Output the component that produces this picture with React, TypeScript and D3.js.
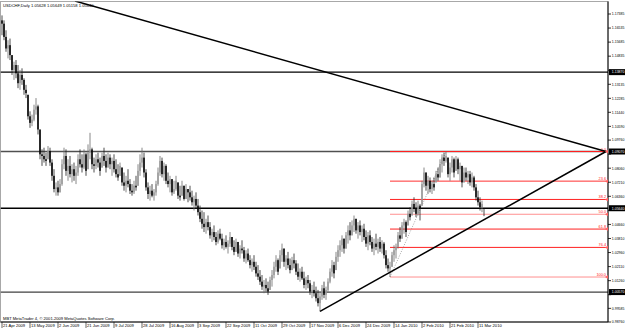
import React from 'react';
import * as d3 from 'd3';

const title = 'USDCHF,Daily  1.05628 1.05649 1.05158 1.05640';
const copyright = 'MBT MetaTrader 4, \u00A9 2001-2009 MetaQuotes Software Corp.';

const highs = [
  1.173, 1.170, 1.164, 1.158, 1.159, 1.149, 1.145, 1.146, 1.143, 1.140,
  1.141, 1.135, 1.131, 1.125, 1.115, 1.113, 1.119, 1.123, 1.119, 1.104,
  1.092, 1.093, 1.090, 1.094, 1.093, 1.086, 1.080, 1.072, 1.073, 1.074,
  1.086, 1.093, 1.092, 1.086, 1.088, 1.083, 1.084, 1.082, 1.089, 1.092,
  1.089, 1.092, 1.090, 1.095, 1.102, 1.093, 1.087, 1.089, 1.090, 1.087,
  1.090, 1.093, 1.089, 1.090, 1.089, 1.087, 1.089, 1.086, 1.083, 1.084,
  1.081, 1.078, 1.076, 1.080, 1.074, 1.071, 1.073, 1.076, 1.083, 1.089,
  1.093, 1.090, 1.080, 1.072, 1.070, 1.071, 1.068, 1.073, 1.081, 1.088,
  1.087, 1.084, 1.083, 1.078, 1.076, 1.074, 1.073, 1.076, 1.072, 1.070,
  1.073, 1.070, 1.071, 1.068, 1.070, 1.067, 1.064, 1.066, 1.062, 1.058,
  1.055, 1.054, 1.050, 1.052, 1.048, 1.044, 1.046, 1.042, 1.043, 1.044,
  1.041, 1.038, 1.040, 1.037, 1.042, 1.039, 1.037, 1.038, 1.036, 1.034,
  1.037, 1.033, 1.031, 1.032, 1.028, 1.026, 1.028, 1.024, 1.022, 1.019,
  1.016, 1.013, 1.014, 1.012, 1.015, 1.019, 1.024, 1.028, 1.026, 1.031,
  1.035, 1.032, 1.028, 1.030, 1.026, 1.027, 1.029, 1.025, 1.023, 1.020,
  1.021, 1.018, 1.015, 1.016, 1.013, 1.010, 1.012, 1.009, 1.007, 1.006,
  1.010, 1.012, 1.009, 1.014, 1.020, 1.025, 1.024, 1.030, 1.034, 1.037,
  1.040, 1.038, 1.042, 1.046, 1.048, 1.049, 1.052, 1.050, 1.048, 1.049,
  1.046, 1.047, 1.043, 1.042, 1.043, 1.039, 1.038, 1.041, 1.038, 1.039,
  1.037, 1.036, 1.031, 1.026, 1.024, 1.030, 1.034, 1.035, 1.042, 1.045,
  1.048, 1.050, 1.049, 1.055, 1.057, 1.061, 1.063, 1.060, 1.061, 1.059,
  1.073, 1.081, 1.078, 1.076, 1.075, 1.073, 1.075, 1.079, 1.081, 1.086,
  1.089, 1.090, 1.0907, 1.087, 1.084, 1.088, 1.087, 1.088, 1.087, 1.084,
  1.082, 1.081, 1.081, 1.079, 1.079, 1.078, 1.076, 1.071, 1.067, 1.063,
  1.061, 1.0565,
];

const lows = [
  1.161, 1.158, 1.151, 1.147, 1.146, 1.137, 1.134, 1.135, 1.129, 1.128,
  1.131, 1.125, 1.123, 1.110, 1.105, 1.106, 1.109, 1.113, 1.101, 1.086,
  1.082, 1.084, 1.082, 1.086, 1.082, 1.073, 1.066, 1.064, 1.064, 1.066,
  1.070, 1.080, 1.076, 1.073, 1.075, 1.072, 1.073, 1.071, 1.076, 1.081,
  1.078, 1.080, 1.076, 1.080, 1.086, 1.080, 1.078, 1.080, 1.081, 1.076,
  1.081, 1.082, 1.078, 1.081, 1.080, 1.076, 1.078, 1.075, 1.073, 1.076,
  1.070, 1.067, 1.066, 1.069, 1.065, 1.064, 1.065, 1.067, 1.070, 1.076,
  1.081, 1.075, 1.067, 1.062, 1.061, 1.063, 1.061, 1.064, 1.070, 1.076,
  1.075, 1.073, 1.071, 1.069, 1.066, 1.064, 1.065, 1.067, 1.062, 1.061,
  1.064, 1.061, 1.062, 1.060, 1.061, 1.058, 1.055, 1.056, 1.052, 1.048,
  1.044, 1.042, 1.041, 1.043, 1.038, 1.036, 1.037, 1.034, 1.035, 1.037,
  1.032, 1.031, 1.032, 1.029, 1.033, 1.031, 1.028, 1.030, 1.027, 1.026,
  1.029, 1.024, 1.023, 1.024, 1.020, 1.018, 1.019, 1.015, 1.013, 1.010,
  1.007, 1.005, 1.006, 1.004, 1.007, 1.009, 1.014, 1.018, 1.016, 1.020,
  1.024, 1.021, 1.019, 1.020, 1.017, 1.019, 1.020, 1.016, 1.013, 1.012,
  1.013, 1.008, 1.007, 1.008, 1.004, 1.002, 1.003, 1.000, 0.997, 0.994,
  1.001, 1.002, 1.001, 1.006, 1.011, 1.015, 1.014, 1.019, 1.024, 1.027,
  1.030, 1.029, 1.032, 1.035, 1.037, 1.040, 1.042, 1.041, 1.038, 1.040,
  1.036, 1.037, 1.033, 1.031, 1.034, 1.030, 1.028, 1.031, 1.029, 1.030,
  1.029, 1.026, 1.020, 1.018, 1.0148, 1.021, 1.024, 1.026, 1.032, 1.036,
  1.038, 1.041, 1.039, 1.046, 1.049, 1.052, 1.054, 1.051, 1.052, 1.049,
  1.058, 1.069, 1.067, 1.065, 1.066, 1.065, 1.067, 1.072, 1.073, 1.075,
  1.078, 1.082, 1.084, 1.075, 1.073, 1.078, 1.075, 1.079, 1.077, 1.073,
  1.069, 1.072, 1.073, 1.071, 1.070, 1.069, 1.067, 1.061, 1.058, 1.055,
  1.054, 1.0516,
];

const closes = [
  1.168, 1.160, 1.153, 1.155, 1.149, 1.140, 1.143, 1.138, 1.132, 1.137,
  1.134, 1.128, 1.126, 1.112, 1.108, 1.110, 1.116, 1.118, 1.104, 1.089,
  1.088, 1.086, 1.085, 1.091, 1.084, 1.076, 1.068, 1.069, 1.066, 1.071,
  1.083, 1.088, 1.079, 1.082, 1.077, 1.080, 1.076, 1.078, 1.086, 1.083,
  1.081, 1.089, 1.079, 1.090, 1.092, 1.083, 1.082, 1.086, 1.084, 1.079,
  1.088, 1.085, 1.081, 1.087, 1.083, 1.085, 1.080, 1.077, 1.075, 1.082,
  1.072, 1.070, 1.073, 1.071, 1.067, 1.066, 1.070, 1.069, 1.079, 1.084,
  1.087, 1.078, 1.069, 1.065, 1.067, 1.064, 1.066, 1.071, 1.078, 1.085,
  1.077, 1.082, 1.073, 1.071, 1.074, 1.066, 1.068, 1.073, 1.064, 1.063,
  1.070, 1.062, 1.068, 1.066, 1.063, 1.060, 1.062, 1.058, 1.054, 1.050,
  1.047, 1.045, 1.048, 1.045, 1.040, 1.042, 1.039, 1.036, 1.041, 1.038,
  1.034, 1.036, 1.033, 1.035, 1.039, 1.033, 1.030, 1.036, 1.029, 1.032,
  1.031, 1.026, 1.029, 1.025, 1.022, 1.024, 1.021, 1.017, 1.015, 1.012,
  1.009, 1.010, 1.008, 1.006, 1.013, 1.016, 1.021, 1.025, 1.018, 1.028,
  1.032, 1.024, 1.026, 1.022, 1.019, 1.025, 1.023, 1.018, 1.015, 1.018,
  1.014, 1.010, 1.013, 1.011, 1.006, 1.007, 1.005, 1.002, 0.999, 1.003,
  1.008, 1.004, 1.007, 1.012, 1.018, 1.022, 1.017, 1.027, 1.031, 1.034,
  1.038, 1.032, 1.040, 1.043, 1.040, 1.046, 1.050, 1.043, 1.046, 1.042,
  1.044, 1.039, 1.035, 1.040, 1.036, 1.032, 1.035, 1.033, 1.036, 1.032,
  1.035, 1.028, 1.022, 1.020, 1.021, 1.028, 1.031, 1.033, 1.040, 1.038,
  1.046, 1.048, 1.042, 1.053, 1.051, 1.059, 1.056, 1.053, 1.058, 1.056,
  1.071, 1.078, 1.070, 1.073, 1.068, 1.071, 1.069, 1.077, 1.075, 1.083,
  1.087, 1.085, 1.088, 1.077, 1.081, 1.086, 1.078, 1.086, 1.080, 1.082,
  1.072, 1.078, 1.075, 1.077, 1.072, 1.075, 1.069, 1.063, 1.060, 1.057,
  1.059, 1.0564,
];

const dateLabels = [
  '21 Apr 2009', '13 May 2009', '2 Jun 2009', '21 Jun 2009', '9 Jul 2009',
  '28 Jul 2009', '16 Aug 2009', '3 Sep 2009', '22 Sep 2009', '11 Oct 2009',
  '29 Oct 2009', '17 Nov 2009', '6 Dec 2009', '24 Dec 2009', '14 Jan 2010',
  '2 Feb 2010', '21 Feb 2010', '11 Mar 2010',
];
const dateLabelBars = [0, 14, 28, 42, 56, 70, 84, 98, 112, 126, 140, 154, 168, 182, 196, 210, 224, 238];

const priceTicks = [
  1.17385, 1.16535, 1.15685, 1.14835, 1.13985, 1.13135, 1.12285, 1.11440,
  1.10590, 1.09760, 1.08910, 1.08060, 1.07210, 1.06360, 1.05510, 1.04660,
  1.03810, 1.02960, 1.02110, 1.01260, 1.00410, 0.99585, 0.98760,
];

const hLinePrices = [1.1387, 1.0907, 1.0057];
const hLineColors = ['#000000', '#505050', '#404040'];
const bidPrice = 1.0564;

const fibFromBar = 194;
const fibToBar = 222;
const fibRatios = [0, 23.6, 38.2, 50.0, 61.8, 76.4, 100.0];
const fibColors = ['#ff2020', '#ff3030', '#ff2020', '#ff9090', '#ff2020', '#ff2020', '#ff9090'];

const trendLines = [
  { fromBar: 36.5, fromPrice: 1.1817, toBar: 302, toPrice: 1.0907 },
  { fromBar: 159, fromPrice: 0.994, toBar: 302, toPrice: 1.0907 },
];

const W = 625;
const H = 329;
const plotLeft = 0.5;
const plotTop = 1.5;
const plotRight = 608;
const plotBottom = 322;
const font = "'Liberation Sans', Arial, sans-serif";

export default function App() {
  const n = closes.length;
  const x = d3.scaleLinear().domain([0, n - 1]).range([2, 484]);
  const y = d3.scaleLinear().domain([0.9876, 1.17385]).range([plotBottom, 14]);
  const fmt = d3.format('.5f');

  const candles = closes.map((c, i) => {
    const hi = highs[i];
    const lo = lows[i];
    const rawOpen = i === 0 ? 1.170 : closes[i - 1];
    const o = Math.max(lo, Math.min(hi, rawOpen));
    return { i, o, h: hi, l: lo, c };
  });

  const fibHigh = highs[fibToBar];
  const fibLow = lows[fibFromBar];
  const fibLevels = fibRatios.map((r) => fibHigh - (r / 100) * (fibHigh - fibLow));

  const boxPrices = [...hLinePrices, bidPrice];
  const visibleTicks = priceTicks.filter((p) => boxPrices.every((b) => Math.abs(y(p) - y(b)) > 4.5));

  const line = d3
    .line<[number, number]>()
    .x((d) => x(d[0]))
    .y((d) => y(d[1]));

  return (
    <div style={{ position: 'absolute', left: 0, top: 0, width: W, height: H, background: '#fff' }}>
      <svg width={W} height={H} style={{ display: 'block' }} fontFamily={font}>
        <defs>
          <clipPath id="plotclip">
            <rect x={plotLeft} y={plotTop} width={plotRight - plotLeft} height={plotBottom - plotTop} />
          </clipPath>
        </defs>
        <rect x={0} y={0} width={W} height={H} fill="#ffffff" />
        <rect
          x={plotLeft}
          y={plotTop}
          width={plotRight - plotLeft}
          height={plotBottom - plotTop}
          fill="none"
          stroke="#a8a8a8"
          strokeWidth={1}
        />

        <g clipPath="url(#plotclip)">
          {hLinePrices.map((p, k) => (
            <line key={'h' + k} x1={plotLeft} x2={plotRight} y1={y(p)} y2={y(p)} stroke={hLineColors[k]} strokeWidth={1.3} />
          ))}
          <line x1={plotLeft} x2={plotRight} y1={y(bidPrice)} y2={y(bidPrice)} stroke="#000" strokeWidth={1.6} />

          {fibLevels.map((p, k) => (
            <line key={'f' + k} x1={x(fibFromBar)} x2={plotRight - 2} y1={y(p)} y2={y(p)} stroke={fibColors[k]} strokeWidth={1} />
          ))}
          <path
            d={line([[fibFromBar, fibLow], [fibToBar, fibHigh]]) || ''}
            stroke="#909090"
            strokeWidth={0.8}
            strokeDasharray="1,1.5"
            fill="none"
          />
          {fibRatios.map((r, k) => (
            <text key={'ft' + k} x={plotRight - 2} y={y(fibLevels[k]) - 1} fontSize={3.8} textAnchor="end" fill="#ff2020">
              {r.toFixed(1)}
            </text>
          ))}

          {candles.map((d) => {
            const bull = d.c >= d.o;
            const top = y(Math.max(d.o, d.c));
            const bot = y(Math.min(d.o, d.c));
            return (
              <g key={'c' + d.i}>
                <line x1={x(d.i)} x2={x(d.i)} y1={y(d.h)} y2={y(d.l)} stroke={bull ? '#6a6a6a' : '#222'} strokeWidth={0.8} />
                <rect
                  x={x(d.i) - 0.75}
                  y={top}
                  width={1.5}
                  height={Math.max(0.8, bot - top)}
                  fill={bull ? '#9a9a9a' : '#000'}
                />
              </g>
            );
          })}

          {trendLines.map((t, k) => (
            <path
              key={'t' + k}
              d={line([[t.fromBar, t.fromPrice], [t.toBar, t.toPrice]]) || ''}
              stroke="#000"
              strokeWidth={1.5}
              fill="none"
            />
          ))}
        </g>

        <text x={3} y={6.5} fontSize={4.1} fill="#000">{title}</text>
        <text x={3} y={319.5} fontSize={4.1} fill="#000">{copyright}</text>

        <line x1={plotRight} x2={plotRight} y1={plotTop} y2={plotBottom} stroke="#000" strokeWidth={1} />
        {priceTicks.map((p, k) => (
          <line key={'ptl' + k} x1={plotRight} x2={plotRight + 3} y1={y(p)} y2={y(p)} stroke="#000" strokeWidth={0.8} />
        ))}
        {visibleTicks.map((p, k) => (
          <text key={'pt' + k} x={plotRight + 3.8} y={y(p) + 1.3} fontSize={3.5} fill="#000">{fmt(p)}</text>
        ))}

        {fibLevels.map((p, k) => (
          <path key={'fm' + k} d={`M${plotRight - 3},${y(p)} l3,-2 l0,4 z`} fill="#ff6060" />
        ))}

        {boxPrices.map((p, k) => (
          <g key={'hb' + k}>
            <rect x={plotRight + 1} y={y(p) - 3} width={W - plotRight - 1} height={6} fill="#000" />
            <text x={plotRight + 3.8} y={y(p) + 1.3} fontSize={3.5} fill="#fff">{fmt(p)}</text>
          </g>
        ))}

        <line x1={plotLeft} x2={plotRight} y1={plotBottom} y2={plotBottom} stroke="#000" strokeWidth={1} />
        {dateLabels.map((lbl, k) => (
          <g key={'d' + k}>
            <line x1={x(dateLabelBars[k])} x2={x(dateLabelBars[k])} y1={plotBottom} y2={plotBottom + 6} stroke="#000" strokeWidth={0.6} />
            <text x={x(dateLabelBars[k]) + 1} y={plotBottom + 5.3} fontSize={4.1} fill="#000">{lbl}</text>
          </g>
        ))}
      </svg>
    </div>
  );
}
